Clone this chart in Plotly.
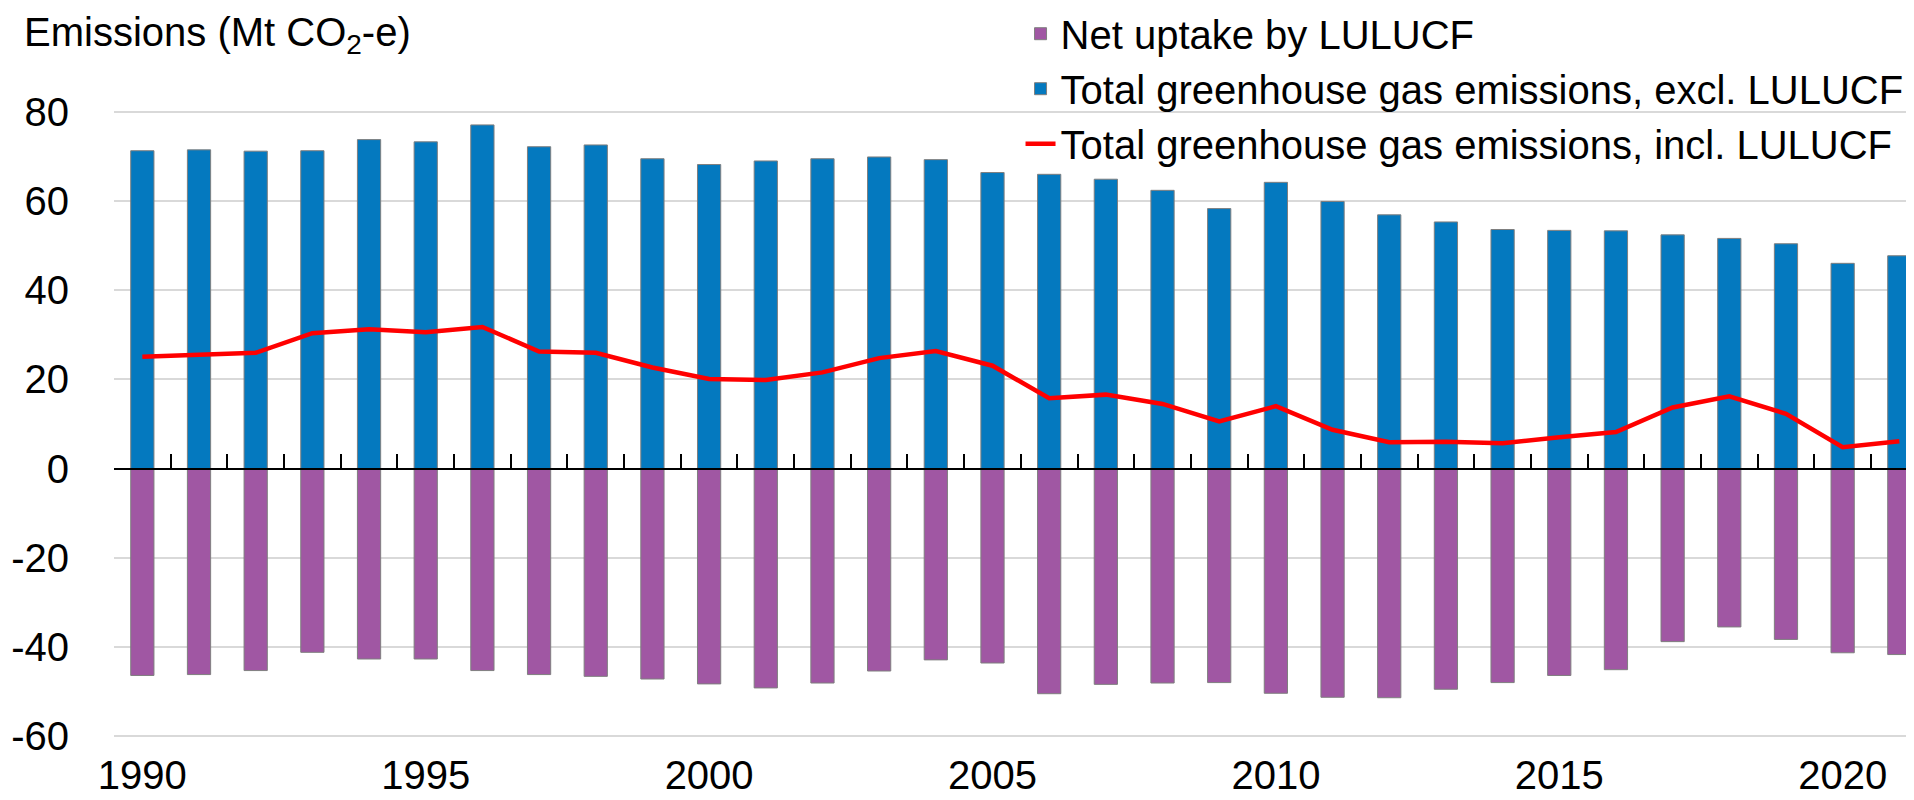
"""Greenhouse gas emissions with and without LULUCF, 1990-2021."""
import plotly.graph_objects as go

years = list(range(1990, 2022))

# Mt CO2-e
excl_lulucf = [71.4, 71.6, 71.3, 71.4, 73.9, 73.4, 77.2, 72.3, 72.7, 69.6,
               68.3, 69.1, 69.6, 70.0, 69.4, 66.5, 66.1, 65.0, 62.5, 58.4,
               64.3, 60.0, 57.0, 55.4, 53.7, 53.5, 53.4, 52.5, 51.7, 50.5,
               46.1, 47.8]
net_uptake = [-46.5, -46.3, -45.4, -41.3, -42.8, -42.8, -45.4, -46.3, -46.7,
              -47.3, -48.4, -49.3, -48.2, -45.5, -43.0, -43.7, -50.6, -48.5,
              -48.2, -48.1, -50.5, -51.4, -51.5, -49.6, -48.1, -46.5, -45.2,
              -38.9, -35.6, -38.4, -41.4, -41.8]
incl_lulucf = [25.1, 25.5, 26.0, 30.4, 31.3, 30.6, 31.8, 26.3, 26.0, 22.7,
               20.1, 19.9, 21.6, 24.8, 26.4, 23.1, 15.8, 16.6, 14.5, 10.6,
               14.0, 8.7, 5.9, 6.0, 5.7, 7.0, 8.2, 13.7, 16.2, 12.3, 4.8, 6.1]

x_labels = [1990, 1995, 2000, 2005, 2010, 2015, 2020]
y_ticks = [-60, -40, -20, 0, 20, 40, 60, 80]

BLUE = "#0479BF"
PURPLE = "#A057A3"
RED = "#FF0000"
GRID = "#D9D9D9"
FONT = "Liberation Sans, Arial, sans-serif"

x_range = [1989.5, 2021.4]
y_range = [-61, 81]

fig = go.Figure()
fig.add_trace(go.Bar(
    x=years, y=net_uptake, name="Net uptake by LULUCF",
    marker=dict(color=PURPLE, line=dict(color="#7F7F7F", width=1)),
    width=0.41,
))
fig.add_trace(go.Bar(
    x=years, y=excl_lulucf, name="Total greenhouse gas emissions, excl. LULUCF",
    marker=dict(color=BLUE, line=dict(color="#7F7F7F", width=1)),
    width=0.41,
))
# line sits on the overlay axis so that axis (the zero line) gets drawn
fig.add_trace(go.Scatter(
    x=years, y=incl_lulucf, mode="lines", xaxis="x2",
    name="Total greenhouse gas emissions, incl. LULUCF",
    line=dict(color=RED, width=4.5),
))

# zero line with category-boundary ticks pointing up
zero_pos = (0 - y_range[0]) / (y_range[1] - y_range[0])
boundaries = [y - 0.5 for y in years] + [years[-1] + 0.5]

fig.update_layout(
    width=1914,
    height=800,
    margin=dict(l=106, r=0, t=100, b=68, autoexpand=False),
    paper_bgcolor="white",
    plot_bgcolor="white",
    barmode="relative",
    showlegend=True,
    font=dict(family=FONT, size=40, color="#000000"),
    legend=dict(
        x=0.5014, y=1.169, xanchor="left", yanchor="top",
        bgcolor="rgba(0,0,0,0)", traceorder="normal",
        font=dict(family=FONT, size=40, color="#000000"),
        itemwidth=30, tracegroupgap=0,
    ),
    xaxis=dict(
        range=x_range,
        tickmode="array",
        tickvals=x_labels,
        ticktext=[str(v) for v in x_labels],
        ticks="",
        showgrid=False,
        zeroline=False,
        showline=False,
        ticklabelstandoff=8,
        tickfont=dict(family=FONT, size=40, color="#000000"),
    ),
    xaxis2=dict(
        range=x_range,
        overlaying="x",
        anchor="free",
        position=zero_pos,
        side="bottom",
        tickmode="array",
        tickvals=boundaries,
        ticks="inside",
        ticklen=14,
        tickwidth=2,
        tickcolor="#000000",
        showticklabels=False,
        showgrid=False,
        zeroline=False,
        showline=True,
        linecolor="#000000",
        linewidth=2,
    ),
    yaxis=dict(
        range=y_range,
        tickmode="array",
        tickvals=y_ticks,
        ticktext=[str(v) for v in y_ticks],
        showgrid=True,
        gridcolor=GRID,
        gridwidth=2,
        zeroline=False,
        showline=False,
        ticks="",
        ticklabelstandoff=44,
        tickfont=dict(family=FONT, size=40, color="#000000"),
    ),
    annotations=[dict(
        text="Emissions (Mt CO<sub>2</sub>-e)",
        xref="paper", yref="paper",
        x=-0.0509, y=1.158, xanchor="left", yanchor="top",
        showarrow=False,
        font=dict(family=FONT, size=40, color="#000000"),
    )],
)

fig.write_html("out.html")
